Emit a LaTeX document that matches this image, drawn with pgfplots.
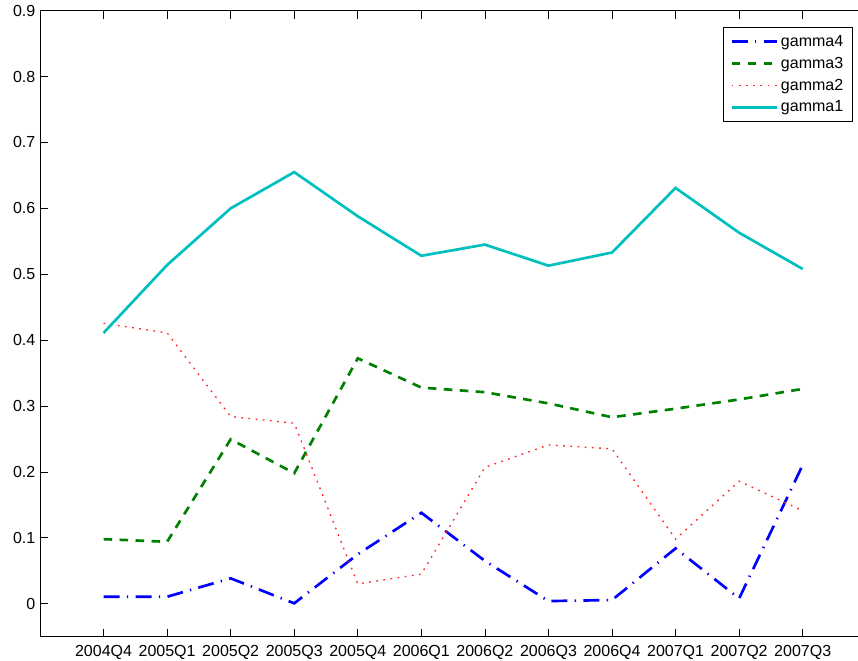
\documentclass[border=0pt]{standalone}
\usepackage{fontspec}
\setmainfont{Liberation Sans}
\usepackage{pgfplots}
\pgfplotsset{compat=1.18}
\definecolor{mcyan}{RGB}{0,191,191}
\definecolor{mgreen}{RGB}{0,128,0}
\begin{document}
\begin{tikzpicture}
\begin{axis}[
  scale only axis,
  width=619.7pt, height=469.5pt,
  xmin=-1, xmax=12,
  ymin=-0.05, ymax=0.9,
  xtick={0,...,11},
  xticklabels={2004Q4,2005Q1,2005Q2,2005Q3,2005Q4,2006Q1,2006Q2,2006Q3,2006Q4,2007Q1,2007Q2,2007Q3},
  ytick={0,0.1,0.2,0.3,0.4,0.5,0.6,0.7,0.8,0.9},
  yticklabels={0,0.1,0.2,0.3,0.4,0.5,0.6,0.7,0.8,0.9},
  tick align=inside,
  major tick length=6pt,
  tick style={black, line width=0.6pt},
  axis line style={black, line width=0.7pt},
  /pgf/number format/assume math mode=true,
  tick label style={font=\fontsize{12}{14}\selectfont},
  xticklabel style={yshift=-3pt},
  legend cell align=left,
  legend style={
    at={(rel axis cs:0.984,0.9745)}, anchor=north east,
    draw=black, line width=0.7pt,
    font=\fontsize{12}{14}\selectfont,
    inner xsep=5pt, inner ysep=4pt,
    row sep=2.6pt,
    nodes={inner xsep=2pt, inner ysep=2pt},
    /tikz/every even column/.append style={column sep=2.5pt},
  },
  legend image code/.code={\draw[#1] (0pt,0pt) -- (34pt,0pt);},
]
\addplot[blue, line width=2pt, dash pattern=on 12pt off 5.5pt on 1pt off 5.5pt] coordinates {
(0,0.0106) (1,0.0106) (2,0.0385) (3,0.0006) (4,0.075) (5,0.138) (6,0.065) (7,0.004) (8,0.0056) (9,0.084) (10,0.008) (11,0.2105)};
\addlegendentry{gamma4}
\addplot[mgreen, line width=2pt, dash pattern=on 6.5pt off 5.5pt] coordinates {
(0,0.098) (1,0.094) (2,0.2495) (3,0.198) (4,0.3724) (5,0.328) (6,0.321) (7,0.304) (8,0.283) (9,0.296) (10,0.310) (11,0.326)};
\addlegendentry{gamma3}
\addplot[red!85, line width=1pt, dash pattern=on 1.3pt off 4.1pt] coordinates {
(0,0.4255) (1,0.411) (2,0.284) (3,0.274) (4,0.030) (5,0.045) (6,0.207) (7,0.241) (8,0.235) (9,0.098) (10,0.186) (11,0.141)};
\addlegendentry{gamma2}
\addplot[mcyan, line width=2pt] coordinates {
(0,0.411) (1,0.514) (2,0.600) (3,0.655) (4,0.588) (5,0.528) (6,0.545) (7,0.513) (8,0.533) (9,0.631) (10,0.563) (11,0.508)};
\addlegendentry{gamma1}
\end{axis}
\pgfresetboundingbox
\useasboundingbox (-30pt,-18.2pt) rectangle (613.5pt,477.5pt);
\end{tikzpicture}
\end{document}
